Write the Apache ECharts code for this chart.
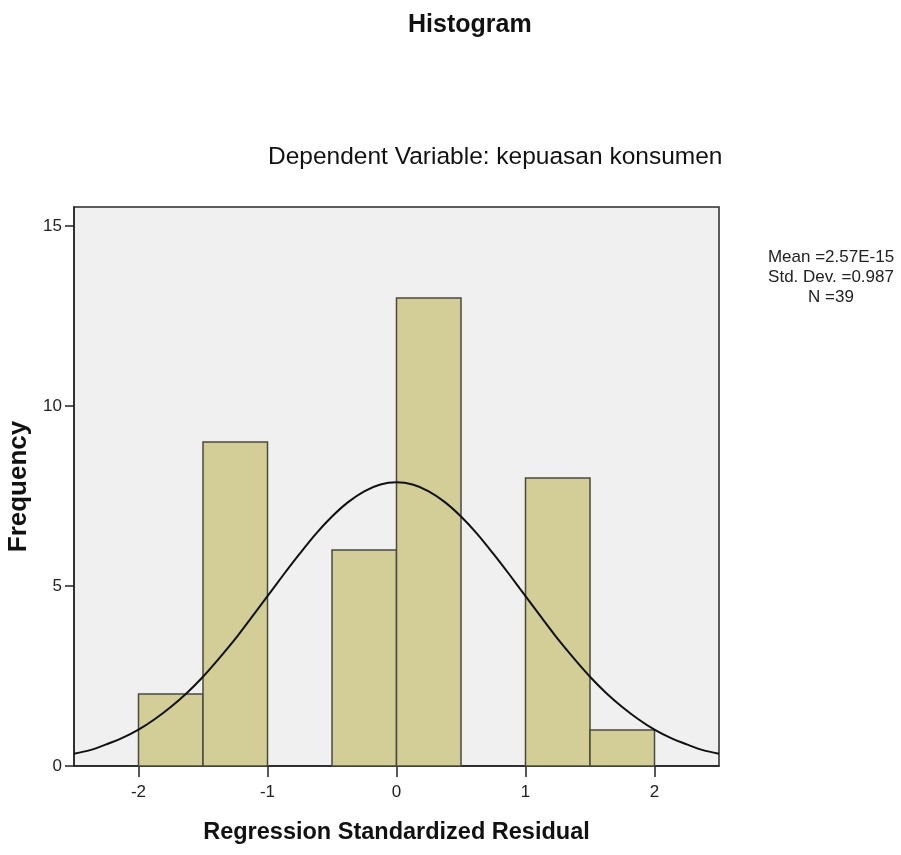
<!DOCTYPE html>
<html>
<head>
<meta charset="utf-8">
<script src="https://cdn.jsdelivr.net/npm/echarts@6/dist/echarts.min.js"></script>
<style>
  html, body { margin: 0; padding: 0; background: #fff; }
  #chart { width: 901px; height: 855px; }
</style>
</head>
<body>
<div id="chart"></div>
<script>
// bins of the histogram (lower edge, upper edge) and their counts
var binStart = [-2, -1.5, -1, -0.5, 0, 0.5, 1, 1.5];
var binEnd = [-1.5, -1, -0.5, 0, 0.5, 1, 1.5, 2];
var counts = [2, 9, 0, 6, 13, 0, 8, 1];

// normal curve
var curveX = [-2.5, -2.375, -2.25, -2.125, -2, -1.875, -1.75, -1.625, -1.5, -1.375,
  -1.25, -1.125, -1, -0.875, -0.75, -0.625, -0.5, -0.375, -0.25, -0.125, 0,
  0.125, 0.25, 0.375, 0.5, 0.625, 0.75, 0.875, 1, 1.125, 1.25, 1.375, 1.5,
  1.625, 1.75, 1.875, 2, 2.125, 2.25, 2.375, 2.5];
var curveY = [0.34, 0.44, 0.6, 0.78, 1.01, 1.3, 1.64, 2.03, 2.48, 2.99,
  3.53, 4.12, 4.72, 5.32, 5.9, 6.45, 6.93, 7.33, 7.63, 7.82, 7.88,
  7.82, 7.63, 7.33, 6.93, 6.45, 5.9, 5.32, 4.72, 4.12, 3.53, 2.99, 2.48,
  2.03, 1.64, 1.3, 1.01, 0.78, 0.6, 0.44, 0.34];

var xTicks = [-2, -1, 0, 1, 2];
var yTicks = [0, 5, 10, 15];

var statsText = ['Mean =2.57E-15', 'Std. Dev. =0.987', 'N =39'];

var sans = "'Liberation Sans', Arial, sans-serif";

var chart = echarts.init(document.getElementById('chart'), null, { renderer: 'canvas' });

var bars = [];
for (var i = 0; i < counts.length; i++) {
  bars.push([binStart[i], binEnd[i], counts[i]]);
}
var curve = [];
for (var j = 0; j < curveX.length; j++) {
  curve.push([curveX[j], curveY[j]]);
}

var option = {
  animation: false,
  backgroundColor: '#fff',
  grid: {
    left: 74,
    right: 182,
    top: 207,
    bottom: 89,
    outerBoundsMode: 'none',
    containLabel: false,
    show: true,
    backgroundColor: '#f0f0f0',
    borderColor: '#2a2a2a',
    borderWidth: 1.5
  },
  xAxis: {
    type: 'value',
    min: -2.5,
    max: 2.5,
    axisLine: { show: true, onZero: false, lineStyle: { color: '#222', width: 1.5 } },
    axisTick: { show: true, length: 11, customValues: xTicks, lineStyle: { color: '#222', width: 1.5 } },
    axisLabel: { customValues: xTicks, margin: 18, color: '#222', fontFamily: sans, fontSize: 17 },
    splitLine: { show: false },
    name: 'Regression Standardized Residual',
    nameLocation: 'middle',
    nameGap: 55,
    nameTextStyle: { fontFamily: sans, fontWeight: 'bold', fontSize: 23.5, color: '#111' }
  },
  yAxis: {
    type: 'value',
    min: 0,
    max: 15.53,
    axisLine: { show: true, onZero: false, lineStyle: { color: '#222', width: 1.5 } },
    axisTick: { show: true, length: 9, customValues: yTicks, lineStyle: { color: '#222', width: 1.5 } },
    axisLabel: { customValues: yTicks, margin: 12, color: '#222', fontFamily: sans, fontSize: 17 },
    splitLine: { show: false },
    name: 'Frequency',
    nameLocation: 'middle',
    nameGap: 36,
    nameTextStyle: { fontFamily: sans, fontWeight: 'bold', fontSize: 26, color: '#111' }
  },
  graphic: [
    {
      type: 'text', left: 408, top: 13,
      style: { text: 'Histogram', font: 'bold 25px ' + sans, fill: '#111' }
    },
    {
      type: 'text', left: 268, top: 145,
      style: { text: 'Dependent Variable: kepuasan konsumen', font: '24.5px ' + sans, fill: '#111' }
    },
    {
      type: 'text', x: 831, y: 247,
      style: {
        text: statsText.join('\n'),
        align: 'center',
        font: '17px ' + sans,
        lineHeight: 20,
        fill: '#222'
      }
    }
  ],
  series: [
    {
      type: 'custom',
      data: bars,
      encode: { x: [0, 1], y: 2 },
      z: 2,
      renderItem: function (params, api) {
        var n = api.value(2);
        if (!n) return;
        var p0 = api.coord([api.value(0), n]);
        var p1 = api.coord([api.value(1), 0]);
        return {
          type: 'rect',
          shape: { x: p0[0], y: p0[1], width: p1[0] - p0[0], height: p1[1] - p0[1] },
          style: { fill: '#d3ce98', stroke: '#4a4a3c', lineWidth: 1.5 }
        };
      }
    },
    {
      type: 'line',
      data: curve,
      smooth: 0.3,
      symbol: 'none',
      z: 3,
      lineStyle: { color: '#111', width: 2 }
    }
  ]
};

chart.setOption(option);
</script>
</body>
</html>
